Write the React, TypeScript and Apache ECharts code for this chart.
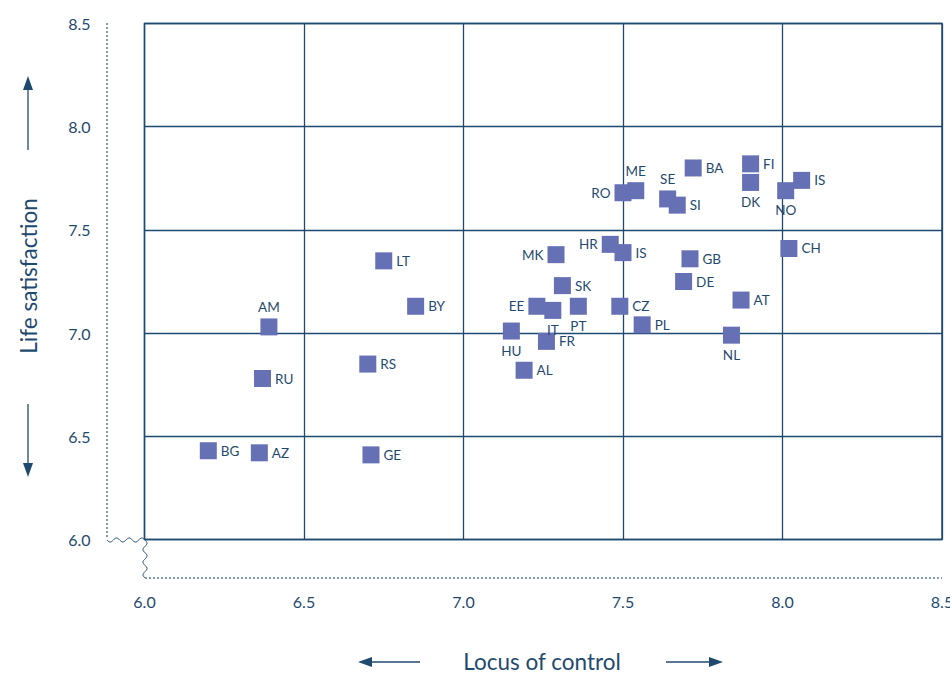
import React, { useEffect, useRef } from "react";
import * as echarts from "echarts";

const countries = ["BG","AZ","GE","RU","AM","RS","LT","BY","HU","AL","EE","IT","FR","PT","SK","MK","HR","IS","CZ","PL","RO","ME","SE","SI","BA","GB","DE","AT","NL","FI","DK","NO","IS","CH"];
const locusOfControl = [6.20,6.36,6.71,6.37,6.39,6.70,6.75,6.85,7.15,7.19,7.23,7.28,7.26,7.36,7.31,7.29,7.46,7.50,7.49,7.56,7.50,7.54,7.64,7.67,7.72,7.71,7.69,7.87,7.84,7.90,7.90,8.01,8.06,8.02];
const lifeSatisfaction = [6.43,6.42,6.41,6.78,7.03,6.85,7.35,7.13,7.01,6.82,7.13,7.11,6.96,7.13,7.23,7.38,7.43,7.39,7.13,7.04,7.68,7.69,7.65,7.62,7.80,7.36,7.25,7.16,6.99,7.82,7.73,7.69,7.74,7.41];
const labelSide = ["right","right","right","right","top","right","right","right","bottom","right","left","bottom","right","bottom","right","left","left","right","right","right","left","top","top","right","right","right","right","right","bottom","right","bottom","bottom","right","right"];
const ticks = [6.0, 6.5, 7.0, 7.5, 8.0, 8.5];

const INK = "#1f4a70";
const FONT = "Lato, 'Open Sans', sans-serif";

function wave(x0: number, y0: number, len: number, vertical: boolean) {
  const pts: number[][] = [];
  const n = 60;
  for (let i = 0; i <= n; i++) {
    const t = (i / n) * len;
    const off = 2 * Math.sin((t / len) * Math.PI * 2 * 3);
    pts.push(vertical ? [x0 + off, y0 + t] : [x0 + t, y0 + off]);
  }
  return pts;
}

export default function App() {
  const ref = useRef<HTMLDivElement>(null);
  useEffect(() => {
    document.body.style.margin = "0";
    const chart = echarts.init(ref.current!, null, { renderer: "svg" });
    const data = countries.map((c, i) => ({
      value: [locusOfControl[i], lifeSatisfaction[i]],
      name: c,
      label: { position: labelSide[i] },
    }));
    const lineStyle = { stroke: INK, lineWidth: 1.3 };
    chart.setOption({
      animation: false,
      grid: {
        left: 144.5, top: 23.5, right: 8, bottom: 134.5,
        containLabel: false, outerBoundsMode: "none",
        show: true, borderColor: INK, borderWidth: 1.5, backgroundColor: "transparent",
      },
      xAxis: {
        type: "value", min: 6, max: 8.5, interval: 0.5,
        axisLine: { show: false }, axisTick: { show: false },
        splitLine: { show: true, lineStyle: { color: INK, width: 1.3 } },
        axisLabel: {
          margin: 54, color: INK, fontSize: 16, fontFamily: FONT,
          formatter: (v: number) => ticks.includes(v) ? v.toFixed(1) : "",
        },
      },
      yAxis: {
        type: "value", min: 6, max: 8.5, interval: 0.5,
        axisLine: { show: false }, axisTick: { show: false },
        splitLine: { show: true, lineStyle: { color: INK, width: 1.3 } },
        axisLabel: {
          margin: 54, color: INK, fontSize: 16, fontFamily: FONT,
          formatter: (v: number) => ticks.includes(v) ? v.toFixed(1) : "",
        },
      },
      series: [{
        type: "scatter",
        symbol: "rect",
        symbolSize: 17,
        itemStyle: { color: "#6670b4", opacity: 1 },
        label: {
          show: true, formatter: "{b}", color: INK, fontSize: 13.5, fontFamily: FONT, distance: 4,
        },
        data,
      }],
      graphic: [
        { type: "polyline", shape: { points: [[107, 23], [107, 539]] }, style: { stroke: "#5a7c98", lineWidth: 1.5, lineDash: [2, 2], fill: null } },
        { type: "polyline", shape: { points: wave(107, 540, 38, false) }, style: { stroke: INK, lineWidth: 1, fill: null } },
        { type: "polyline", shape: { points: wave(145, 540, 38, true) }, style: { stroke: INK, lineWidth: 1, fill: null } },
        { type: "polyline", shape: { points: [[145, 578], [942, 578]] }, style: { stroke: "#5a7c98", lineWidth: 1.5, lineDash: [2, 2], fill: null } },
        // y arrows
        { type: "line", shape: { x1: 28, y1: 89, x2: 28, y2: 150 }, style: lineStyle },
        { type: "polygon", shape: { points: [[28, 76], [23, 90], [33, 90]] }, style: { fill: INK } },
        { type: "line", shape: { x1: 28, y1: 404, x2: 28, y2: 464 }, style: lineStyle },
        { type: "polygon", shape: { points: [[28, 477], [23, 463], [33, 463]] }, style: { fill: INK } },
        // x arrows
        { type: "line", shape: { x1: 371, y1: 662, x2: 420, y2: 662 }, style: lineStyle },
        { type: "polygon", shape: { points: [[358, 662], [372, 657], [372, 667]] }, style: { fill: INK } },
        { type: "line", shape: { x1: 666, y1: 662, x2: 710, y2: 662 }, style: lineStyle },
        { type: "polygon", shape: { points: [[723, 662], [709, 657], [709, 667]] }, style: { fill: INK } },
        {
          type: "text", x: 28, y: 276, rotation: Math.PI / 2,
          style: { text: "Life satisfaction", fill: INK, fontSize: 22.5, fontFamily: FONT, align: "center", verticalAlign: "middle" },
        },
        {
          type: "text", x: 542, y: 661,
          style: { text: "Locus of control", fill: INK, fontSize: 22.5, fontFamily: FONT, align: "center", verticalAlign: "middle" },
        },
      ],
    });
    return () => chart.dispose();
  }, []);
  return <div ref={ref} style={{ width: 950, height: 674 }} />;
}
